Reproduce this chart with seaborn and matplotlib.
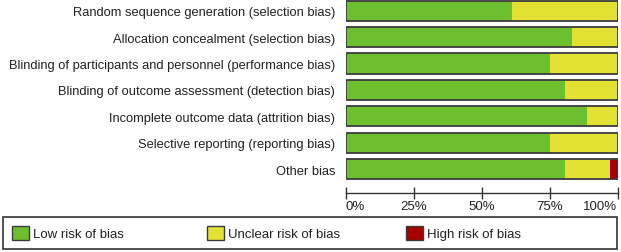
import matplotlib
matplotlib.use("Agg")
import matplotlib.pyplot as plt
from matplotlib.patches import Patch, Rectangle
import seaborn as sns

# Risk of bias domains (top to bottom)
domains = [
    "Random sequence generation (selection bias)",
    "Allocation concealment (selection bias)",
    "Blinding of participants and personnel (performance bias)",
    "Blinding of outcome assessment (detection bias)",
    "Incomplete outcome data (attrition bias)",
    "Selective reporting (reporting bias)",
    "Other bias",
]
# percentages per judgement
low_risk = [61.1, 83.3, 75.0, 80.6, 88.9, 75.0, 80.6]
unclear_risk = [38.9, 16.7, 25.0, 19.4, 11.1, 25.0, 16.6]
high_risk = [0.0, 0.0, 0.0, 0.0, 0.0, 0.0, 2.8]

tick_vals = [0, 25, 50, 75, 100]
tick_labels = ["0%", "25%", "50%", "75%", "100%"]

green = "#6cc02f"
yellow = "#e3e234"
red = "#a60000"
edge = "#3c3c3c"

sns.set_style("white")
plt.rcParams["font.family"] = ["Liberation Sans", "DejaVu Sans"]

fig = plt.figure(figsize=(6.21, 2.53), dpi=100)
ax = fig.add_axes([345.5 / 621, 1 - 183.3 / 253, 272 / 621, 184.8 / 253])

# stacked bars drawn as cumulative layers
total = [l + u + h for l, u, h in zip(low_risk, unclear_risk, high_risk)]
low_unclear = [l + u for l, u in zip(low_risk, unclear_risk)]
bw = 0.76
sns.barplot(x=total, y=domains, orient="h", color=red, width=bw, linewidth=0, saturation=1, ax=ax)
sns.barplot(x=low_unclear, y=domains, orient="h", color=yellow, width=bw, linewidth=0, saturation=1, ax=ax)
sns.barplot(x=low_risk, y=domains, orient="h", color=green, width=bw, linewidth=0, saturation=1, ax=ax)
sns.barplot(x=total, y=domains, orient="h", facecolor="none", edgecolor=edge, width=bw,
            linewidth=1.3, saturation=1, ax=ax)

ax.set_xlim(0, 100)
ax.set_ylim(6.5, -0.5)
ax.set_xlabel("")
ax.set_ylabel("")
for s in ["top", "right", "left"]:
    ax.spines[s].set_visible(False)
ax.spines["bottom"].set_position(("outward", 7.7))
ax.spines["bottom"].set_color("#333333")
ax.spines["bottom"].set_linewidth(1.0)
ax.tick_params(axis="y", left=False, length=0, pad=7.5, labelsize=9.25, labelcolor="#222222")
ax.tick_params(axis="x", bottom=True, direction="inout", length=8, width=1.0, color="#333333",
               labelsize=9.5, labelcolor="#222222", pad=1)
ax.set_xticks(tick_vals)
ax.set_xticklabels(tick_labels)
xl = ax.get_xticklabels()
xl[0].set_ha("left")
xl[-1].set_ha("right")

# legend box across the bottom
fig.patches.append(Rectangle((3 / 621, 3 / 253), 614 / 621, 32 / 253, transform=fig.transFigure,
                             facecolor="white", edgecolor="#333333", linewidth=1.2))
legend_labels = ["Low risk of bias", "Unclear risk of bias", "High risk of bias"]
legend_colors = [green, yellow, red]
legend_x = [12, 207, 406]
for lab, col, lx in zip(legend_labels, legend_colors, legend_x):
    leg = fig.legend(handles=[Patch(facecolor=col, edgecolor=edge, label=lab)],
                     loc="center left", bbox_to_anchor=(lx / 621, 1 - 234 / 253),
                     fontsize=9.5, frameon=False, borderaxespad=0, borderpad=0,
                     handlelength=1.3, handleheight=1.3, handletextpad=0.3)
    for t in leg.get_texts():
        t.set_color("#222222")

fig.savefig("out.png", dpi=100)
